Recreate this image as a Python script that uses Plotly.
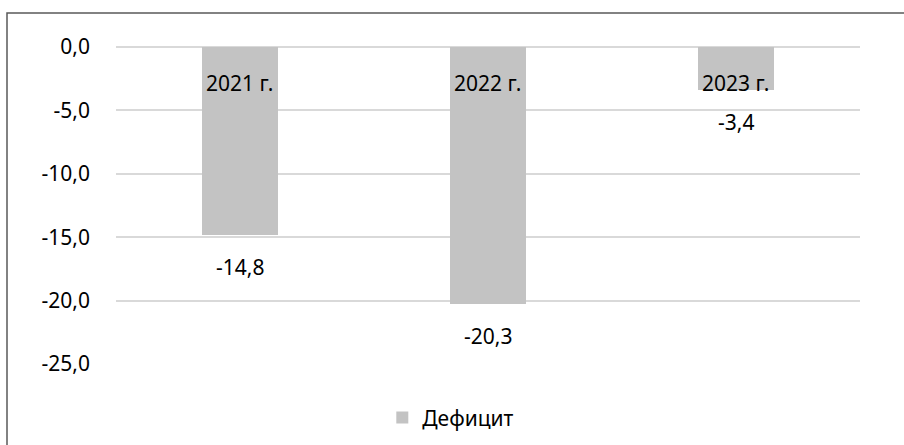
import plotly.graph_objects as go

categories = ["2021 г.", "2022 г.", "2023 г."]
deficit = [-14.8, -20.3, -3.4]
value_labels = ["-14,8", "-20,3", "-3,4"]
tick_vals = [0, -5, -10, -15, -20, -25]
tick_text = ["0,0", "-5,0", "-10,0", "-15,0", "-20,0", "-25,0"]

FONT = "Noto Sans"
FS = 21
BAR = "#c3c3c3"

fig = go.Figure()
fig.add_trace(go.Bar(
    x=categories, y=deficit, name="Дефицит",
    marker=dict(color=BAR, line=dict(width=0)),
    width=0.31, hoverinfo="skip",
))

annotations = []
for c in categories:
    annotations.append(dict(x=c, y=0, xref="x", yref="y", text=c, showarrow=False,
                            yanchor="middle", yshift=-36,
                            font=dict(family=FONT, size=FS, color="#000000")))
for c, v, t in zip(categories, deficit, value_labels):
    annotations.append(dict(x=c, y=v, xref="x", yref="y", text=t, showarrow=False,
                            yanchor="middle", yshift=-32,
                            font=dict(family=FONT, size=FS, color="#000000")))

fig.update_layout(
    width=904, height=445,
    margin=dict(l=116, r=44, t=47, b=81, autoexpand=False),
    paper_bgcolor="white", plot_bgcolor="white",
    font=dict(family=FONT, size=FS, color="#000000"),
    showlegend=True,
    legend=dict(orientation="h", x=0.45, y=-0.17, xanchor="center", yanchor="middle",
                font=dict(family=FONT, size=FS, color="#000000"),
                itemwidth=30, bgcolor="rgba(0,0,0,0)"),
    xaxis=dict(showticklabels=False, showgrid=False, zeroline=False, showline=False,
               range=[-0.5, 2.5], fixedrange=True),
    yaxis=dict(range=[-25, 0], tickvals=tick_vals, ticktext=tick_text,
               showgrid=True, gridcolor="#d9d9d9", gridwidth=1.5,
               zeroline=True, zerolinecolor="#d9d9d9", zerolinewidth=1.5,
               showline=False, ticks="", ticklabelstandoff=25,
               tickfont=dict(family=FONT, size=FS, color="#000000")),
    annotations=annotations,
    bargap=0,
    shapes=[dict(type="rect", xref="paper", yref="paper",
                 x0=(7 - 116) / 744, x1=1.2, y0=-0.5, y1=1 + (47 - 13) / 317,
                 line=dict(color="#595959", width=1.5), fillcolor="rgba(0,0,0,0)",
                 layer="below")],
)

fig.write_html("out.html", config={"displayModeBar": False},
               post_script="document.body.style.margin='0';document.body.style.padding='0';")
